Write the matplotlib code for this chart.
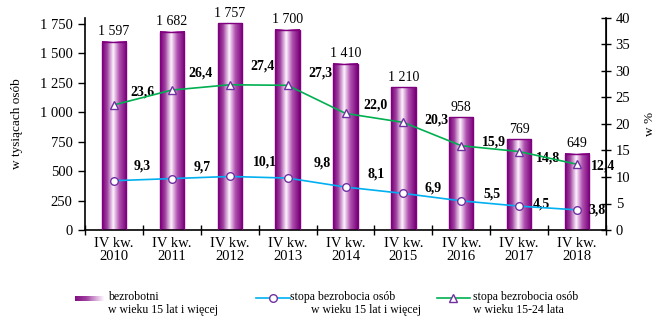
import numpy as np
import matplotlib
matplotlib.use("Agg")
import matplotlib.pyplot as plt
from matplotlib.colors import LinearSegmentedColormap
from matplotlib.patches import Rectangle
from matplotlib.lines import Line2D

plt.rcParams['font.family'] = ['Liberation Serif', 'DejaVu Serif']

# data
years = ["2010", "2011", "2012", "2013", "2014", "2015", "2016", "2017", "2018"]
unemployed = [1597, 1682, 1757, 1700, 1410, 1210, 958, 769, 649]
rate_15plus = [9.3, 9.7, 10.1, 9.8, 8.1, 6.9, 5.5, 4.5, 3.8]
rate_15_24 = [23.6, 26.4, 27.4, 27.3, 22.0, 20.3, 15.9, 14.8, 12.4]

# label offsets from the point, in pixels (dx right, dy up)
off_blue = [(28, 15), (30, 12), (35, 14), (35, 15), (31, 13), (30, 5), (31, 7), (22, 2), (20, 0)]
off_green = [(28, 13), (29, 17), (33, 19), (33, 12), (30, 8), (33, 2), (33, 4), (29, -6), (26, -2)]

W, H = 662, 318
purple = "#800080"
blue = "#00b0f0"
green = "#00b050"
mark = "#7030a0"
cmap = LinearSegmentedColormap.from_list(
    "cyl", [(0, "#780078"), (0.2, "#a040a0"), (0.45, "#fdf4fd"), (0.7, "#b050b0"), (1, "#780078")])

fig = plt.figure(figsize=(W / 100, H / 100), dpi=100)
ax = fig.add_axes([85 / W, 1 - 230 / H, (606 - 85) / W, (230 - 18) / H])
ax2 = ax.twinx()

x = np.arange(len(years))
w = 0.42
grad = np.linspace(0, 1, 64).reshape(1, -1)
for xi, v in zip(x, unemployed):
    ax.imshow(grad, cmap=cmap, extent=[xi - w / 2, xi + w / 2, 0, v], aspect='auto', zorder=2)
    ax.add_patch(Rectangle((xi - w / 2, 0), w, v, fill=False, edgecolor=purple, lw=1, zorder=3))
    ax.text(xi, v + 30, f"{v:,}".replace(",", " "), ha='center', va='bottom', fontsize=10)

ax.set_xlim(-0.5, len(years) - 0.5)
ax.set_ylim(0, 1800)
ax.set_yticks(np.arange(0, 1751, 250))
ax.set_yticklabels([f"{t:,}".replace(",", " ") for t in range(0, 1751, 250)], fontsize=10.5)
ax.set_xticks(x)
ax.set_xticklabels([f"IV kw.\n{y}" for y in years], fontsize=10.5, linespacing=1.05)
ax.set_xticks(np.arange(-0.5, len(years), 1), minor=True)
ax.tick_params(axis='x', which='major', length=0, pad=5)
ax.tick_params(axis='x', which='minor', length=7, direction='inout', width=1)
ax.tick_params(axis='y', length=5, direction='out', width=1, pad=4)
ax.set_ylabel("w tysiącach osób", fontsize=9.5, labelpad=12)
ax.spines['top'].set_visible(False)
ax.spines['left'].set_linewidth(1.2)
ax.spines['bottom'].set_linewidth(1.2)

ax2.plot(x, rate_15plus, color=blue, lw=1.2, marker='o', ms=5.5,
         mfc='white', mec=mark, mew=1, zorder=4)
ax2.plot(x, rate_15_24, color=green, lw=1.2, marker='^', ms=6,
         mfc='white', mec=mark, mew=1, zorder=4)
for vals, offs in [(rate_15plus, off_blue), (rate_15_24, off_green)]:
    for xi, v, (dx, dy) in zip(x, vals, offs):
        ax2.annotate(f"{v:.1f}".replace(".", ","), (xi, v), xytext=(dx * 0.72, dy * 0.72),
                     textcoords='offset points', ha='center', va='center',
                     fontsize=10, fontweight='bold')
ax2.set_ylim(0, 40)
ax2.set_yticks(np.arange(0, 41, 5))
ax2.tick_params(axis='y', labelsize=10.5, length=7, direction='inout', width=1)
ax2.set_ylabel("w %", fontsize=9.5, rotation=90, labelpad=10)
for s in ['top', 'left', 'bottom']:
    ax2.spines[s].set_visible(False)
ax2.spines['right'].set_linewidth(1.2)


# legend drawn by hand in figure pixels
def fx(px):
    return px / W


def fy(py):
    return 1 - py / H


n = 30
for i in range(n):
    fig.patches.append(Rectangle((fx(75 + 29 * i / n), fy(301)), fx(29 / n + 0.3), 5 / H,
                                 facecolor=cmap(0.05 + 0.4 * i / (n - 1)), edgecolor='none',
                                 transform=fig.transFigure))
fig.lines.append(Line2D([fx(256), fx(290)], [fy(298), fy(298)], color=blue, lw=1.2,
                        transform=fig.transFigure))
fig.lines.append(Line2D([fx(273)], [fy(298)], ls='none', marker='o', ms=5.5, mfc='white',
                        mec=mark, transform=fig.transFigure))
fig.lines.append(Line2D([fx(437), fx(470)], [fy(298), fy(298)], color=green, lw=1.2,
                        transform=fig.transFigure))
fig.lines.append(Line2D([fx(453)], [fy(298)], ls='none', marker='^', ms=6, mfc='white',
                        mec=mark, transform=fig.transFigure))
leg_txt = [(108, "bezrobotni\nw wieku 15 lat i więcej"),
           (290, "stopa bezrobocia osób\n       w wieku 15 lat i więcej"),
           (473, "stopa bezrobocia osób\nw wieku 15-24 lata")]
for px, t in leg_txt:
    fig.text(fx(px), fy(291), t, fontsize=8.5, ha='left', va='top', linespacing=1.15)

fig.savefig("out.png", dpi=100)
